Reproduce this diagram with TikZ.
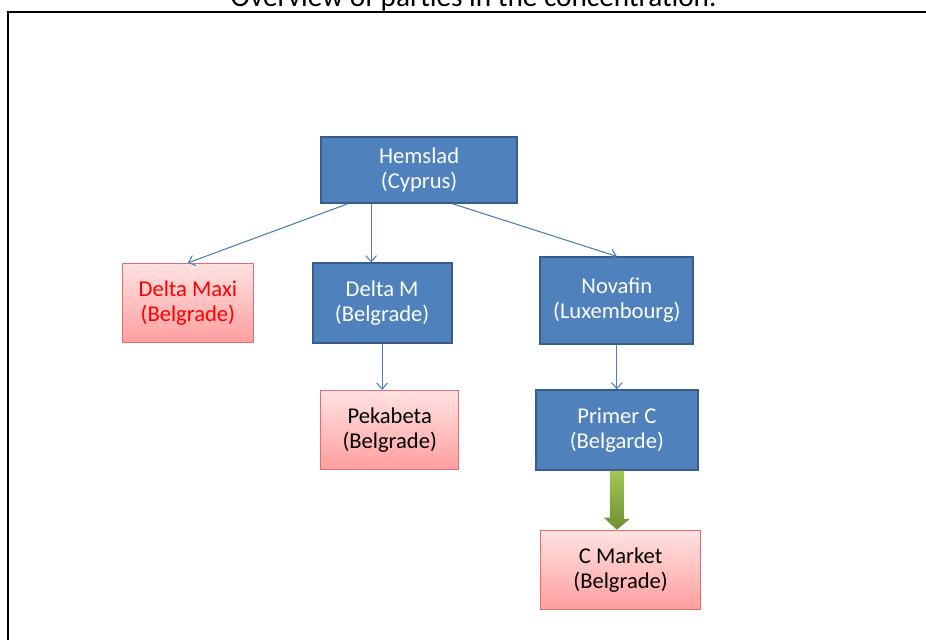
\documentclass[tikz,border=0pt]{standalone}
\usepackage{fontspec}
\setmainfont{Carlito}
\usetikzlibrary{arrows.meta}
\definecolor{boxblue}{RGB}{79, 129, 189}
\definecolor{boxblueline}{RGB}{56, 93, 138}
\definecolor{linkblue}{RGB}{74, 126, 187}
\definecolor{pinktop}{RGB}{255, 226, 226}
\definecolor{pinkbottom}{RGB}{255, 158, 158}
\definecolor{pinkline}{RGB}{226, 110, 108}
\definecolor{olivetop}{RGB}{163, 199, 86}
\definecolor{olivebottom}{RGB}{112, 143, 48}

\begin{document}
\begin{tikzpicture}[
  arrow/.style={-{Straight Barb[length=4.5pt, width=8pt]}, linkblue, line width=0.8pt},
  bluebox/.style={fill=boxblue, draw=boxblueline, line width=1.5pt, text=white, font=\fontsize{17}{18.75}\selectfont, align=center, inner sep=0pt},
  pinkbox/.style={top color=pinktop, bottom color=pinkbottom, draw=pinkline, line width=0.8pt, font=\fontsize{17}{18.75}\selectfont, align=center, inner sep=0pt},
]
\clip (0, 0) rectangle (24.5, -16.907);

% Frame and title
\draw[line width=1.9pt] (0.212, -17.5) rectangle (25.5, -0.317);
\node[anchor=base, font=\fontsize{22}{26}\selectfont] (title) at (12.53, -0.159) {Overview of parties in the concentration.};

% Top
\node[bluebox, minimum width=5.2cm, minimum height=1.74cm] (hem) at (11.09, -4.50) {Hemslad\\(Cyprus)};

% Level 1
\node[pinkbox, text=red, minimum width=3.47cm, minimum height=2.1cm] (dmaxi) at (4.97, -8.02) {Delta Maxi\\(Belgrade)};
\node[bluebox, minimum width=3.68cm, minimum height=2.1cm] (dm) at (10.11, -8.02) {Delta M\\(Belgrade)};
\node[bluebox, minimum width=4.05cm, minimum height=2.28cm] (nova) at (16.32, -7.95) {Novafin\\(Luxembourg)};

\draw[arrow] ([xshift=-1.90cm]hem.south) -- (dmaxi.north);
\draw[arrow] ([xshift=-1.27cm]hem.south) -- ([xshift=-1.27cm]hem.south |- dm.north);
\draw[arrow] ([xshift=0.90cm]hem.south) -- (nova.north);

% Level 2
\node[pinkbox, minimum width=3.66cm, minimum height=2.1cm] (peka) at (10.31, -11.38) {Pekabeta\\(Belgrade)};
\node[bluebox, minimum width=4.27cm, minimum height=2.1cm] (pc) at (16.32, -11.38) {Primer C\\(Belgarde)};

\draw[arrow] (dm.south) -- (dm.south |- peka.north);
\draw[arrow] (nova.south) -- (pc.north);

% Level 3
\node[pinkbox, minimum width=4.24cm, minimum height=2.1cm] (cm) at (16.42, -15.08) {C Market\\(Belgrade)};

\shade[top color=olivetop, bottom color=olivebottom]
  ([xshift=-0.185cm]pc.south) -- ++(0.37, 0) -- ++(0, -1.27) -- ++(0.16, 0)
  -- (pc.south |- cm.north) -- ++(-0.345, 0.32) -- ++(0.16, 0) -- cycle;
\end{tikzpicture}
\end{document}
